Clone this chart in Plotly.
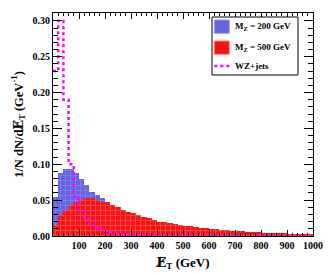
import plotly.graph_objects as go

bin_left = list(range(0, 1000, 20))
bin_width = 20

mz200 = [0.055, 0.0875, 0.094, 0.094, 0.0875, 0.080, 0.071, 0.062, 0.057, 0.053,
         0.048, 0.043, 0.038, 0.034, 0.030, 0.026, 0.023, 0.020, 0.017, 0.015,
         0.013, 0.011, 0.0095, 0.0082, 0.007, 0.006, 0.0052, 0.0045, 0.004, 0.0035,
         0.003, 0.0026, 0.0023, 0.002, 0.0018, 0.0016, 0.0014, 0.0012, 0.0011, 0.001,
         0.0009, 0.0008, 0.0007, 0.0006, 0.0005, 0.0005, 0.0004, 0.0004, 0.0003, 0.0003]

mz500 = [0.015, 0.029, 0.036, 0.043, 0.048, 0.050, 0.0525, 0.0525, 0.050, 0.048,
         0.047, 0.043, 0.041, 0.036, 0.034, 0.032, 0.029, 0.027, 0.025, 0.022,
         0.020, 0.019, 0.0175, 0.0165, 0.0155, 0.0145, 0.0135, 0.0125, 0.0118, 0.011,
         0.010, 0.0093, 0.0086, 0.008, 0.0074, 0.0068, 0.0063, 0.0058, 0.0054, 0.005,
         0.0047, 0.0044, 0.0041, 0.0038, 0.0036, 0.0034, 0.0032, 0.003, 0.0028, 0.0026]

wzjets = [0.23, 0.30, 0.19, 0.10, 0.055, 0.035, 0.024, 0.017, 0.012, 0.009,
          0.007, 0.005, 0.004, 0.003, 0.0025, 0.002, 0.0016, 0.0013, 0.0011, 0.0009,
          0.0008, 0.0007, 0.0006, 0.0005, 0.0004, 0.0004, 0.0003, 0.0003, 0.0003, 0.0002,
          0.0002, 0.0002, 0.0002, 0.0001, 0.0001, 0.0001, 0.0001, 0.0001, 0.0001, 0.0001,
          0.0001, 0.0001, 0.0001, 0.0001, 0.0001, 0.0001, 0.0001, 0.0001, 0.0001, 0.0001]

series_names = ["M<sub>Z</sub> = 200 GeV", "M<sub>Z</sub> = 500 GeV", "WZ+jets"]

x_ticks = [100, 200, 300, 400, 500, 600, 700, 800, 900, 1000]
y_ticks = [0.00, 0.05, 0.10, 0.15, 0.20, 0.25, 0.30]

FONT = "Liberation Serif"
MET = "<span style='font-family:DejaVu Serif'>E\u0338</span>"

BLUE = "rgb(100,100,225)"
BLUE_PAT = "rgb(155,155,245)"
RED = "rgb(245,20,20)"
RED_PAT = "rgb(255,130,130)"
MAGENTA = "#ff00ff"

centers = [b + bin_width / 2 for b in bin_left]

fig = go.Figure()
fig.add_trace(go.Bar(
    x=centers, y=mz200, width=bin_width, name=series_names[0],
    marker=dict(color=BLUE, line=dict(width=0),
                pattern=dict(shape="+", fgcolor=BLUE_PAT, size=5, solidity=0.3)),
))
fig.add_trace(go.Bar(
    x=centers, y=mz500, width=bin_width, name=series_names[1],
    marker=dict(color=RED, line=dict(width=0),
                pattern=dict(shape="+", fgcolor=RED_PAT, size=5, solidity=0.3)),
))
step_x = bin_left + [1000]
step_y = wzjets + [wzjets[-1]]
fig.add_trace(go.Scatter(
    x=step_x, y=step_y, mode="lines", line_shape="hv", name=series_names[2],
    line=dict(color=MAGENTA, width=2.5, dash="dot"),
))

# manual legend (paper coordinates)
shapes = [
    dict(type="rect", xref="paper", yref="paper", x0=0.6115, x1=0.9423, y0=0.722, y1=0.982,
         line=dict(color="black", width=1), fillcolor="white", layer="above"),
    dict(type="rect", xref="paper", yref="paper", x0=0.6204, x1=0.6781, y0=0.909, y1=0.9686,
         line=dict(color=BLUE_PAT, width=1), fillcolor=BLUE, layer="above"),
    dict(type="rect", xref="paper", yref="paper", x0=0.6204, x1=0.6781, y0=0.8148, y1=0.8744,
         line=dict(color=RED_PAT, width=1), fillcolor=RED, layer="above"),
    dict(type="line", xref="paper", yref="paper", x0=0.6204, x1=0.6781, y0=0.7623, y1=0.7623,
         line=dict(color=MAGENTA, width=2.5, dash="dot"), layer="above"),
]
legend_y = [0.9395, 0.8453, 0.7601]
annotations = [
    dict(text="<b>" + n + "</b>", xref="paper", yref="paper", x=0.6912, y=yy,
         xanchor="left", yanchor="middle", showarrow=False,
         font=dict(family=FONT, size=9, color="black"))
    for n, yy in zip(series_names, legend_y)
]

axis_common = dict(
    showline=True, linecolor="black", linewidth=1, mirror="ticks",
    ticks="inside", tickcolor="black", showgrid=False, zeroline=False,
    automargin=False,
    tickfont=dict(family=FONT, size=10, color="black", weight="bold"),
)

fig.update_layout(
    width=324, height=265,
    margin=dict(l=45, r=19, t=5, b=37),
    paper_bgcolor="white", plot_bgcolor="white",
    barmode="overlay", bargap=0,
    showlegend=False,
    shapes=shapes, annotations=annotations,
    xaxis=dict(range=[0, 1000], tickvals=x_ticks, ticklen=6,
               minor=dict(ticks="inside", dtick=20, ticklen=3, tickcolor="black"),
               title=dict(text="<b>" + MET + "<sub>T</sub> (GeV)</b>", standoff=7,
                          font=dict(family=FONT, size=13, color="black")),
               **axis_common),
    yaxis=dict(range=[0, 0.311], tickvals=y_ticks, tickformat=".2f", ticklen=9,
               minor=dict(ticks="inside", dtick=0.01, ticklen=5, tickcolor="black"),
               title=dict(text="<b>1/N dN/d" + MET + "<sub>T</sub> (GeV<sup>-1</sup>)</b>", standoff=6,
                          font=dict(family=FONT, size=12.5, color="black")),
               **axis_common),
)

fig.write_html("out.html")
